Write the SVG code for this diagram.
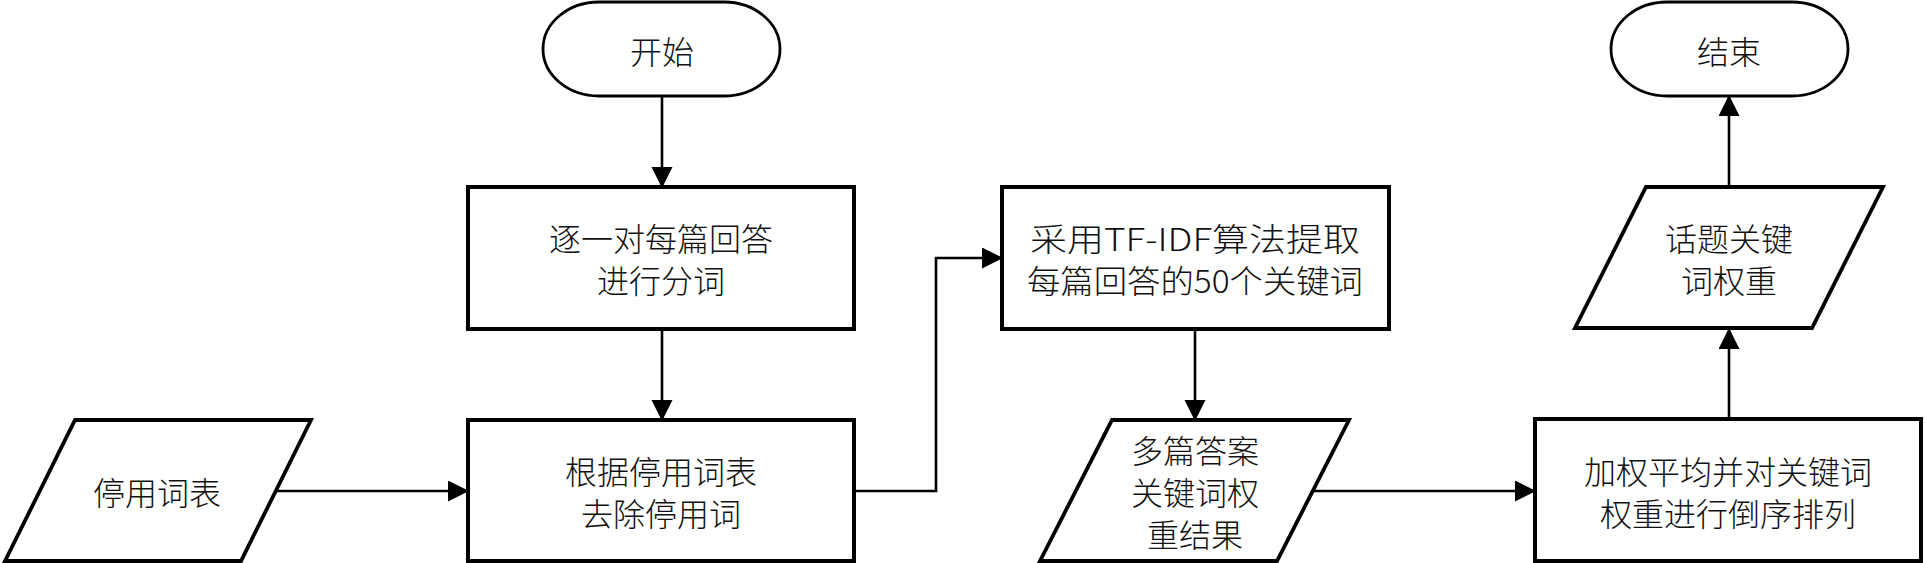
<svg xmlns="http://www.w3.org/2000/svg" width="1925" height="563" viewBox="0 0 1925 563">
<style>
.box{fill:#fff;stroke:#000;stroke-width:4}
.term{fill:#fff;stroke:#000;stroke-width:2.8}
.para{fill:#fff;stroke:#000;stroke-width:3.8;stroke-linejoin:miter}
.edge{fill:none;stroke:#000;stroke-width:2.6}
text{font-family:"Noto Sans CJK SC","Noto Sans CJK JP",sans-serif;font-size:32px;font-weight:300;fill:#111;text-anchor:middle;dominant-baseline:central}
</style>
<defs>
<marker id="arr" markerUnits="userSpaceOnUse" markerWidth="21" markerHeight="22" refX="20" refY="10.5" orient="auto">
<path d="M0,0 L21,10.5 L0,21 z" fill="#000"/>
</marker>
</defs>
<g id="connectors">
<path class="edge" d="M662,96 V187" marker-end="url(#arr)"/>
<path class="edge" d="M662,329 V420" marker-end="url(#arr)"/>
<path class="edge" d="M276,491 H468" marker-end="url(#arr)"/>
<path class="edge" d="M854,491 H936 V258 H1002" marker-end="url(#arr)"/>
<path class="edge" d="M1195,329 V420" marker-end="url(#arr)"/>
<path class="edge" d="M1313,491 H1535" marker-end="url(#arr)"/>
<path class="edge" d="M1729,419 V329" marker-end="url(#arr)"/>
<path class="edge" d="M1729,187 V96" marker-end="url(#arr)"/>
</g>
<g id="start">
<rect class="term" x="543" y="2" width="237" height="94" rx="56" ry="47"/>
<text x="662" y="50">开始</text>
</g>
<g id="segment">
<rect class="box" x="468" y="187" width="386" height="142"/>
<text x="661" y="237">逐一对每篇回答</text>
<text x="661" y="279">进行分词</text>
</g>
<g id="stoplist">
<polygon class="para" points="75,420 311,420 241,561 5,561"/>
<text x="157" y="491">停用词表</text>
</g>
<g id="remove">
<rect class="box" x="468" y="420" width="386" height="141"/>
<text x="661" y="470">根据停用词表</text>
<text x="661" y="512">去除停用词</text>
</g>
<g id="tfidf">
<rect class="box" x="1002" y="187" width="387" height="142"/>
<text x="1195" y="237" textLength="330" lengthAdjust="spacingAndGlyphs">采用TF-IDF算法提取</text>
<text x="1195" y="279" textLength="336" lengthAdjust="spacingAndGlyphs">每篇回答的50个关键词</text>
</g>
<g id="results">
<polygon class="para" points="1112,420 1349,420 1277,561 1040,561"/>
<text x="1195" y="449">多篇答案</text>
<text x="1195" y="491">关键词权</text>
<text x="1195" y="533">重结果</text>
</g>
<g id="average">
<rect class="box" x="1535" y="419" width="386" height="142"/>
<text x="1728" y="470">加权平均并对关键词</text>
<text x="1728" y="512">权重进行倒序排列</text>
</g>
<g id="topic">
<polygon class="para" points="1646,187 1883,187 1812,328 1575,328"/>
<text x="1729" y="237">话题关键</text>
<text x="1729" y="279">词权重</text>
</g>
<g id="end">
<rect class="term" x="1611" y="2" width="237" height="94" rx="56" ry="47"/>
<text x="1729" y="50">结束</text>
</g>
</svg>
